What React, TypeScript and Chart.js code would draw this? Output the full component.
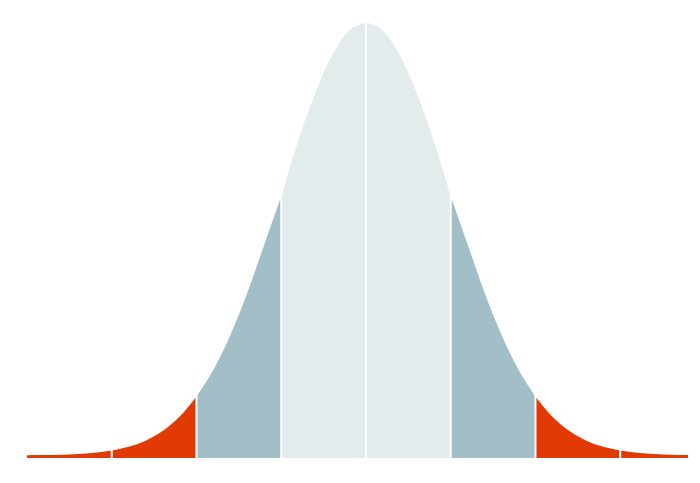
import React, { useEffect, useRef } from "react";
import { Chart, registerables } from "chart.js";

Chart.register(...registerables);

// Standard-deviation positions (x) and relative curve height (y, peak = 1)
const zValues = [
  -4.0, -3.8, -3.6, -3.4, -3.2, -3.0, -2.8, -2.6, -2.4, -2.2,
  -2.0, -1.8, -1.6, -1.4, -1.2, -1.0, -0.8, -0.6, -0.4, -0.2,
  0.0, 0.2, 0.4, 0.6, 0.8, 1.0, 1.2, 1.4, 1.6, 1.8,
  2.0, 2.2, 2.4, 2.6, 2.8, 3.0, 3.2, 3.4, 3.6, 3.8,
];
const heights = [
  0.0003, 0.0007, 0.0015, 0.0031, 0.006, 0.0111, 0.0198, 0.034, 0.0561, 0.0889,
  0.1353, 0.1979, 0.278, 0.3753, 0.4868, 0.598, 0.7261, 0.8353, 0.9231, 0.9802,
  1.0, 0.9802, 0.9231, 0.8353, 0.7261, 0.598, 0.4868, 0.3753, 0.278, 0.1979,
  0.1353, 0.0889, 0.0561, 0.034, 0.0198, 0.0111, 0.006, 0.0031, 0.0015, 0.0007,
];
// Band boundaries (in standard deviations) and their fill colours
const bandEdges = [-4, -3, -2, -1, 0, 1, 2, 3, 3.8];
const bandColors = [
  "#E13A04", "#E13A04", "#A2BEC6", "#E3EBED",
  "#E3EBED", "#A2BEC6", "#E13A04", "#E13A04",
];
const dividerLines = [-3, -2, -1, 0, 1, 2, 3];

const Y_MIN = -0.006;
const Y_MAX = 1.0;

export default function App() {
  const ref = useRef<HTMLCanvasElement | null>(null);

  useEffect(() => {
    document.body.style.margin = "0";
    const canvas = ref.current;
    if (!canvas) return;

    const points = zValues.map((z, i) => ({ x: z, y: heights[i] }));

    const dividers = dividerLines.map((z) => ({
      type: "line" as const,
      data: [
        { x: z, y: Y_MIN },
        { x: z, y: Y_MAX },
      ],
      borderColor: "#FFFFFF",
      borderWidth: 2,
      pointRadius: 0,
      fill: false,
      order: 0,
    }));

    const bands = bandColors.map((color, b) => {
      const lo = bandEdges[b];
      const hi = bandEdges[b + 1];
      return {
        type: "line" as const,
        data: points.filter((p) => p.x >= lo - 1e-9 && p.x <= hi + 1e-9),
        borderWidth: 0,
        borderColor: color,
        backgroundColor: color,
        pointRadius: 0,
        fill: "start",
        cubicInterpolationMode: "monotone" as const,
        order: 1,
      };
    });

    const chart = new Chart(canvas, {
      type: "line",
      data: { datasets: [...dividers, ...bands] as any },
      options: {
        animation: false,
        responsive: false,
        maintainAspectRatio: false,
        layout: { padding: { left: 27, right: 12, top: 22, bottom: 25 } },
        plugins: {
          legend: { display: false },
          tooltip: { enabled: false },
        },
        scales: {
          x: { type: "linear", min: -4, max: 3.8, display: false },
          y: { type: "linear", min: Y_MIN, max: Y_MAX, display: false },
        },
      },
    });
    return () => chart.destroy();
  }, []);

  return (
    <div style={{ width: 700, height: 483 }}>
      <canvas ref={ref} width={700} height={483} style={{ display: "block" }} />
    </div>
  );
}
